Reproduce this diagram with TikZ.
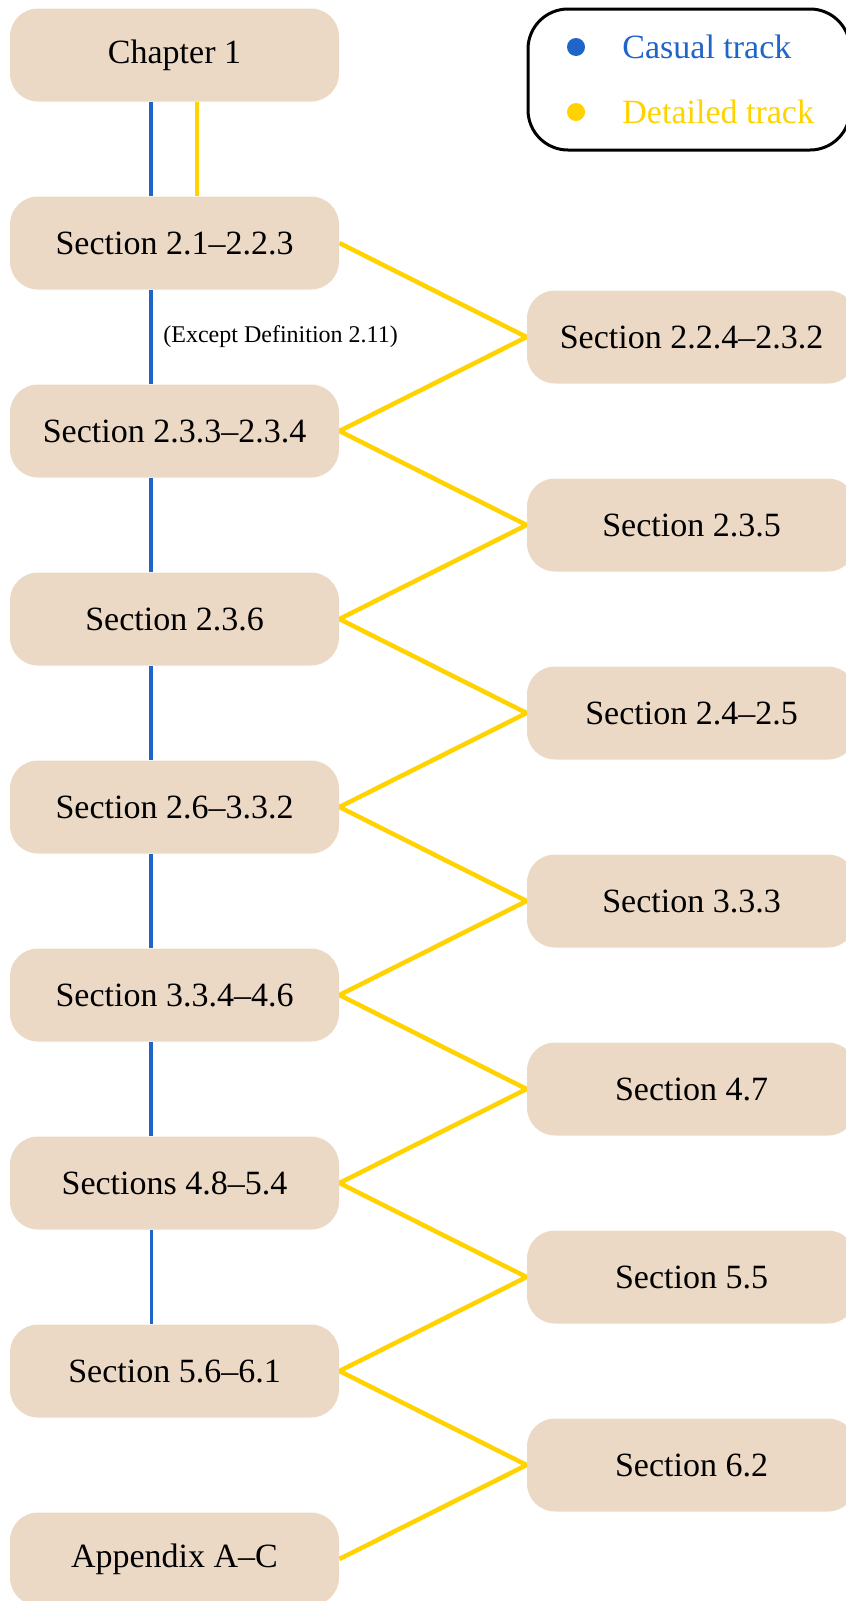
\documentclass[tikz,border=0pt]{standalone}
\usepackage{fontspec}
\setmainfont{Liberation Serif}
\usetikzlibrary{backgrounds}
\definecolor{boxfill}{HTML}{EBD9C5}
\definecolor{casual}{HTML}{1F64C8}
\definecolor{detail}{HTML}{FFD200}
\begin{document}
\begin{tikzpicture}[x=0.5pt,y=-0.5pt,
  sec/.style={fill=boxfill, rounded corners=14pt, minimum width=164.5pt, minimum height=46.5pt, inner sep=0pt, font=\fontsize{17}{20}\selectfont},
  casualline/.style={draw=casual, line width=2pt},
  thincasual/.style={draw=casual, line width=1.5pt},
  detailline/.style={draw=detail, line width=2.25pt, line join=miter},
  legtext/.style={anchor=west, inner sep=0pt, font=\fontsize{17}{20}\selectfont},
  dot/.style={circle, inner sep=0pt, minimum size=9pt}]
\useasboundingbox (0,0) rectangle (846,1601);
\clip (0,0) rectangle (846,1601);
% left column
\node[sec] (L1) at (174.5,55) {Chapter 1};
\node[sec] (L2) at (174.5,243) {Section 2.1--2.2.3};
\node[sec] (L3) at (174.5,431) {Section 2.3.3--2.3.4};
\node[sec] (L4) at (174.5,619) {Section 2.3.6};
\node[sec] (L5) at (174.5,807) {Section 2.6--3.3.2};
\node[sec] (L6) at (174.5,995) {Section 3.3.4--4.6};
\node[sec] (L7) at (174.5,1183) {Sections 4.8--5.4};
\node[sec] (L8) at (174.5,1371) {Section 5.6--6.1};
\node[sec] (L9) at (174.5,1559) {Appendix A--C};
% right column
\node[sec] (R1) at (691.5,337) {Section 2.2.4--2.3.2};
\node[sec] (R2) at (691.5,525) {Section 2.3.5};
\node[sec] (R3) at (691.5,713) {Section 2.4--2.5};
\node[sec] (R4) at (691.5,901) {Section 3.3.3};
\node[sec] (R5) at (691.5,1089) {Section 4.7};
\node[sec] (R6) at (691.5,1277) {Section 5.5};
\node[sec] (R7) at (691.5,1465) {Section 6.2};
% note
\node[anchor=west, inner sep=0pt, font=\fontsize{12}{14}\selectfont] (exc) at (163,337) {(Except Definition 2.11)};
% legend
\node[draw, line width=1.5pt, rounded corners=20pt, minimum width=161pt, minimum height=70.5pt, inner sep=0pt] (legend) at (689,79.5) {};
\node[dot, fill=casual] (d1) at (576,47) {};
\node[dot, fill=detail] (d2) at (576,112) {};
\node[legtext, text=casual] (t1) at (622,47) {Casual track};
\node[legtext, text=detail] (t2) at (622,112) {Detailed track};
\begin{pgfonlayer}{background}
\foreach \a/\b in {L1/L2,L2/L3,L3/L4,L4/L5,L5/L6,L6/L7}
  \draw[casualline] ([xshift=-11.75pt]\a.south) -- ([xshift=-11.75pt]\b.north);
\draw[thincasual] ([xshift=-11.75pt]L7.south) -- ([xshift=-11.75pt]L8.north);
\draw[detailline] ([xshift=11.25pt]L1.south) -- ([xshift=11.25pt]L2.north);
\draw[detailline] (L2.east) -- (R1.west) -- (L3.east) -- (R2.west) -- (L4.east)
  -- (R3.west) -- (L5.east) -- (R4.west) -- (L6.east) -- (R5.west) -- (L7.east)
  -- (R6.west) -- (L8.east) -- (R7.west) -- (L9.east);
\end{pgfonlayer}
\end{tikzpicture}
\end{document}
